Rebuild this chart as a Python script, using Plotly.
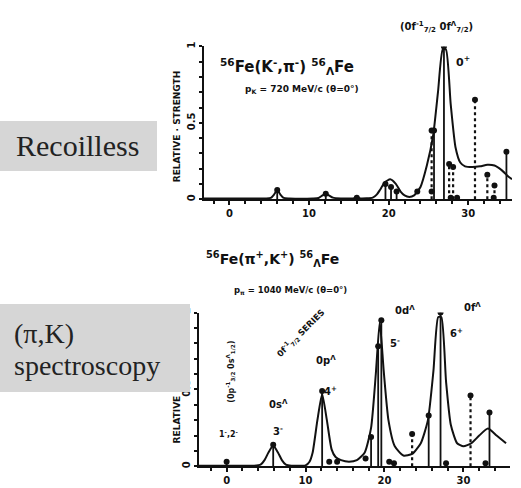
import plotly.graph_objects as go

W, H = 521, 488

# ---------------- data: upper panel, 56Fe(K-,pi-) ----------------
top_curve_x = [-3.2, 4.5, 5.2, 5.6, 6.0, 6.4, 6.8, 7.5, 10.5, 11.2, 11.7, 12.1, 12.5, 13.0, 14.0,
               15.5, 15.8, 16.0, 16.2, 16.5, 18.0, 18.5, 18.9, 19.5, 20.2, 20.9, 21.5, 22.0,
               22.6, 23.2, 24.0, 24.8, 25.6, 26.2, 26.8, 27.2, 27.8, 28.4, 29.0, 29.6, 30.5,
               31.5, 32.4, 33.3, 34.2, 35.0, 35.5]
top_curve_y = [0.005, 0.005, 0.008, 0.03, 0.06, 0.03, 0.008, 0.005, 0.005, 0.008, 0.025,
               0.035, 0.025, 0.01, 0.005, 0.005, 0.008, 0.012, 0.008, 0.005, 0.01, 0.03,
               0.06, 0.11, 0.13, 0.10, 0.05, 0.025, 0.015, 0.025, 0.08, 0.22, 0.42, 0.70,
               0.98, 0.98, 0.62, 0.34, 0.24, 0.215, 0.21, 0.215, 0.225, 0.22, 0.19, 0.15,
               0.13]
top_solid_x = [6.0, 12.1, 19.6, 20.3, 21.0, 25.7, 26.95, 34.8]
top_solid_h = [0.06, 0.035, 0.10, 0.08, 0.05, 0.45, 1.00, 0.31]
top_dot_x = [25.4, 27.6, 28.1, 30.85, 32.4, 33.3]
top_dot_h = [0.45, 0.23, 0.21, 0.65, 0.16, 0.09]
top_small_x = [16.0, 23.6, 25.4, 27.8, 28.6, 33.2]
top_small_y = [0.01, 0.05, 0.05, 0.01, 0.01, 0.01]

# ---------------- data: lower panel, 56Fe(pi+,K+) ----------------
bot_curve_x = [-3.5, 3.5, 4.3, 4.8, 5.3, 5.9, 6.5, 7.0, 7.5, 8.2, 10.0, 10.5, 10.9, 11.5, 12.1,
               12.7, 13.3, 13.8, 14.5, 15.5, 16.5, 17.5, 18.3, 18.9, 19.4, 19.9, 20.5, 21.3,
               22.4, 23.5, 24.6, 25.5, 26.2, 26.8, 27.2, 27.8, 28.4, 29.2, 30.0, 31.0, 32.0,
               33.1, 34.2, 35.4]
bot_curve_y = [0.004, 0.004, 0.01, 0.04, 0.09, 0.135, 0.09, 0.04, 0.01, 0.004, 0.006, 0.03,
               0.09, 0.30, 0.47, 0.30, 0.11, 0.06, 0.04, 0.03, 0.04, 0.09, 0.25, 0.60, 0.94,
               0.62, 0.30, 0.13, 0.07, 0.08, 0.15, 0.30, 0.62, 0.97, 0.97, 0.55, 0.27, 0.15,
               0.13, 0.15, 0.20, 0.245, 0.20, 0.15]
bot_solid_x = [0.0, 5.9, 12.1, 18.3, 19.2, 19.6, 25.6, 27.1, 33.3]
bot_solid_h = [0.03, 0.14, 0.49, 0.19, 0.78, 0.95, 0.33, 1.00, 0.35]
bot_dot_x = [23.5, 30.9]
bot_dot_h = [0.21, 0.46]
bot_small_x = [13.0, 14.0, 17.6, 20.6, 21.2, 27.8, 32.8]
bot_small_y = [0.03, 0.03, 0.05, 0.03, 0.02, 0.02, 0.02]

x_ticks = [0, 10, 20, 30]
y_ticks = [0, 0.5, 1]
y_tick_text = ["0", "0.5", "1"]


def stems(xs, hs):
    sx, sy = [], []
    for x, h in zip(xs, hs):
        sx += [x, x, None]
        sy += [0, h, None]
    return sx, sy


fig = go.Figure()


def add_panel(xa, ya, cx, cy, sx_, sh_, dx_, dh_, mx_, my_):
    fig.add_trace(go.Scatter(x=cx, y=cy, mode="lines",
                             line=dict(color="#111", width=2, shape="spline", smoothing=0.55),
                             xaxis=xa, yaxis=ya, hoverinfo="skip"))
    x1, y1 = stems(sx_, sh_)
    fig.add_trace(go.Scatter(x=x1, y=y1, mode="lines", line=dict(color="#111", width=1.8),
                             xaxis=xa, yaxis=ya, hoverinfo="skip"))
    x2, y2 = stems(dx_, dh_)
    fig.add_trace(go.Scatter(x=x2, y=y2, mode="lines", line=dict(color="#111", width=2.2, dash="dot"),
                             xaxis=xa, yaxis=ya, hoverinfo="skip"))
    fig.add_trace(go.Scatter(x=list(sx_) + list(dx_) + list(mx_), y=list(sh_) + list(dh_) + list(my_),
                             mode="markers", marker=dict(color="#111", size=6),
                             xaxis=xa, yaxis=ya, hoverinfo="skip"))


add_panel("x", "y", top_curve_x, top_curve_y, top_solid_x, top_solid_h, top_dot_x, top_dot_h, top_small_x, top_small_y)
add_panel("x2", "y2", bot_curve_x, bot_curve_y, bot_solid_x, bot_solid_h, bot_dot_x, bot_dot_h, bot_small_x, bot_small_y)

tickfont = dict(family="DejaVu Sans", size=10, color="#111", weight="bold")
xcommon = dict(showgrid=False, zeroline=False, showline=True, linecolor="#111", linewidth=2,
               ticks="outside", ticklen=4, tickwidth=1.5, tickcolor="#111",
               tickvals=x_ticks, ticktext=[str(v) for v in x_ticks], tickfont=tickfont,
               minor=dict(dtick=2, ticks="outside", ticklen=3, tickwidth=1.5, tickcolor="#111"))
ycommon = dict(showgrid=False, zeroline=False, showline=True, linecolor="#111", linewidth=2,
               ticks="outside", ticklen=3, tickwidth=1.5, tickcolor="#111",
               tickvals=y_ticks, ticktext=y_tick_text, tickangle=-90, tickfont=tickfont,
               range=[0, 1.0], minor=dict(dtick=0.1, ticks="outside", ticklen=3, tickwidth=1.5, tickcolor="#111"))


def px(x):
    return x / W


def py(y):
    return 1 - y / H


fig.update_layout(
    width=W, height=H, margin=dict(l=0, r=0, t=0, b=0),
    paper_bgcolor="white", plot_bgcolor="white", showlegend=False,
    xaxis=dict(xcommon, domain=[px(204), px(512)], range=[-3.2, 35.5], anchor="y"),
    yaxis=dict(ycommon, domain=[py(197), py(42)], anchor="x"),
    xaxis2=dict(xcommon, domain=[px(199), px(510)], range=[-3.5, 35.9], anchor="y2"),
    yaxis2=dict(ycommon, domain=[py(468), py(312)], anchor="x2"),
)

bold = dict(family="DejaVu Sans", color="#111", weight="bold")


def note(text, x, y, size=10, angle=0, xanchor="center", yanchor="middle", font=None, **kw):
    f = dict(font or bold)
    f["size"] = size
    fig.add_annotation(text=text, x=px(x), y=py(y), xref="paper", yref="paper", showarrow=False,
                       xanchor=xanchor, yanchor=yanchor, textangle=angle, font=f, **kw)


# axis titles (drawn first so the grey boxes cover them)
note("RELATIVE · STRENGTH", 177, 123, size=9, angle=-90)
note("RELATIVE · STRENGTH", 177, 388, size=9, angle=-90)

# upper panel labels
note("<sup>56</sup>Fe(K<sup>-</sup>,π<sup>-</sup>) <sup>56</sup><sub>Λ</sub>Fe", 287, 62, size=15)
note("p<sub>K</sub> = 720 MeV/c (θ=0°)", 302, 86, size=9)
note("(0f<sup>-1</sup><sub>7/2</sub> 0f<sup>Λ</sup><sub>7/2</sub>)", 436, 22, size=10)
note("0<sup>+</sup>", 463, 57, size=11)

# lower panel labels
note("<sup>56</sup>Fe(π<sup>+</sup>,K<sup>+</sup>) <sup>56</sup><sub>Λ</sub>Fe", 272, 258, size=14)
note("p<sub>π</sub> = 1040 MeV/c (θ=0°)", 290, 290, size=8.5)
note("0f<sup>-1</sup><sub>7/2</sub> SERIES", 300, 333, size=8.5, angle=-45)
note("0d<sup>Λ</sup>", 405, 309, size=10)
note("5<sup>-</sup>", 395, 343, size=10)
note("0f<sup>Λ</sup>", 472, 306, size=10)
note("6<sup>+</sup>", 456, 333, size=10)
note("0p<sup>Λ</sup>", 326, 360, size=10)
note("4<sup>+</sup>", 330, 392, size=10)
note("0s<sup>Λ</sup>", 278, 405, size=10)
note("3<sup>-</sup>", 278, 432, size=10)
note("1<sup>-</sup>,2<sup>-</sup>", 229, 435, size=8)
note("(0p<sup>-1</sup><sub>3/2</sub> 0s<sup>Λ</sup><sub>1/2</sub>)", 231, 372, size=8, angle=-90)

# grey side boxes
fig.add_annotation(text=" ", x=0, y=py(118), xref="paper", yref="paper", showarrow=False,
                   xanchor="left", yanchor="top", width=157, height=50, bgcolor="#d6d6d6",
                   borderpad=0, borderwidth=0)
fig.add_annotation(text=" ", x=0, y=py(303), xref="paper", yref="paper", showarrow=False,
                   xanchor="left", yanchor="top", width=190, height=88, bgcolor="#d6d6d6",
                   borderpad=0, borderwidth=0)
serif = dict(family="Liberation Serif", color="#222")
note("Recoilless", 14, 143, size=30, xanchor="left", font=serif)
note("(π,K)", 12, 333, size=28, xanchor="left", font=serif)
note("spectroscopy", 12, 366, size=28, xanchor="left", font=serif)

fig.write_html("out.html")
